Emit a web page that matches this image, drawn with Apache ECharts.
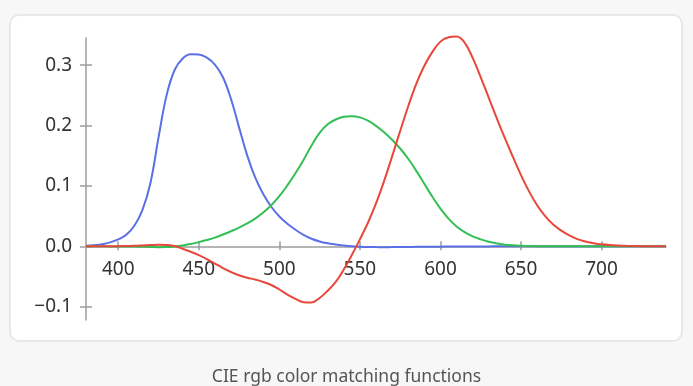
<!DOCTYPE html>
<html>
<head>
<meta charset="utf-8">
<script src="https://cdn.jsdelivr.net/npm/echarts@6/dist/echarts.min.js"></script>
<style>
  html, body { margin: 0; padding: 0; background: #f7f7f7; }
  #card { position: absolute; left: 9px; top: 14px; width: 674px; height: 328px; box-sizing: border-box;
          background: #fff; border: 2px solid #e8e8e8; border-radius: 10px; }
  #chart { position: absolute; left: 0; top: 0; width: 693px; height: 386px; }
</style>
</head>
<body>
<div id="card"></div>
<div id="chart"></div>
<script>
// Wavelengths (nm), 380..740 step 5
const wavelengths = [380,385,390,395,400,405,410,415,420,425,430,435,440,445,450,455,460,465,470,475,480,485,490,495,500,505,510,515,520,525,530,535,540,545,550,555,560,565,570,575,580,585,590,595,600,605,610,615,620,625,630,635,640,645,650,655,660,665,670,675,680,685,690,695,700,705,710,715,720,725,730,735,740];

const rBar = [0.0000,0.0001,0.0001,0.0002,0.0003,0.0005,0.0008,0.0014,0.0021,0.0027,0.0022,0.0004,-0.0040,-0.0090,-0.0145,-0.0210,-0.0285,-0.0360,-0.0425,-0.0480,-0.0520,-0.0550,-0.0590,-0.0640,-0.0715,-0.0800,-0.0870,-0.0925,-0.0930,-0.0855,-0.0735,-0.0590,-0.0385,-0.0145,0.0115,0.0390,0.0710,0.1080,0.1490,0.1910,0.2320,0.2690,0.2990,0.3220,0.3390,0.3462,0.3475,0.3375,0.3120,0.2800,0.2460,0.2120,0.1790,0.1480,0.1180,0.0910,0.0680,0.0500,0.0360,0.0260,0.0180,0.0120,0.0080,0.0050,0.0033,0.0021,0.0013,0.0008,0.0005,0.0003,0.0002,0.0001,0.0001];

const gBar = [0.0000,0.0000,0.0000,-0.0001,-0.0001,-0.0002,-0.0004,-0.0007,-0.0011,-0.0014,-0.0012,-0.0002,0.0015,0.0040,0.0070,0.0105,0.0145,0.0195,0.0250,0.0310,0.0380,0.0460,0.0560,0.0680,0.0830,0.1010,0.1210,0.1430,0.1670,0.1880,0.2020,0.2100,0.2145,0.2155,0.2135,0.2080,0.1995,0.1890,0.1765,0.1620,0.1450,0.1250,0.1035,0.0820,0.0625,0.0460,0.0330,0.0235,0.0165,0.0115,0.0075,0.0047,0.0028,0.0016,0.0009,0.0005,0.0003,0.0002,0.0001,0,0,0,0,0,0,0,0,0,0,0,0,0,0];

const bBar = [0.0010,0.0020,0.0035,0.0065,0.0115,0.0190,0.0340,0.0600,0.1050,0.1800,0.2500,0.2920,0.3110,0.3180,0.3175,0.3125,0.3010,0.2800,0.2440,0.1970,0.1510,0.1140,0.0865,0.0655,0.0495,0.0375,0.0275,0.0190,0.0125,0.0080,0.0050,0.0030,0.0015,0.0003,-0.0005,-0.0010,-0.0013,-0.0014,-0.0013,-0.0012,-0.0011,-0.0009,-0.0008,-0.0006,-0.0005,-0.0004,-0.0003,-0.0002,-0.0002,-0.0001,-0.0001,0,0,0,0,0,0,0,0,0,0,0,0,0,0,0,0,0,0,0,0,0,0];

const xTicks = [400, 450, 500, 550, 600, 650, 700];
const yTicks = [-0.1, 0.0, 0.1, 0.2, 0.3];
const caption = 'CIE rgb color matching functions';

const FONT = 'Noto Sans';
const AXIS_COLOR = '#9d9d9d';
const Y_MIN = -0.122, Y_MAX = 0.345;
const GRID = { left: 86, right: 27, top: 38, bottom: 66 };

function pairs(vals) { return wavelengths.map((w, i) => [w, vals[i]]); }
function yFmt(v) { const s = Math.abs(v).toFixed(1); return v < -1e-9 ? '\u2212' + s : s; }

// offset that lifts the bottom x axis up to y = 0
const plotH = 386 - GRID.top - GRID.bottom;
const zeroOffset = -plotH * (0 - Y_MIN) / (Y_MAX - Y_MIN);

const xBase = { type: 'value', min: 380, max: 740, position: 'bottom', offset: zeroOffset, splitLine: { show: false } };
const yBase = { type: 'value', min: Y_MIN, max: Y_MAX, position: 'left', splitLine: { show: false } };

function lineSeries(name, vals, color, z) {
  return { name: name, type: 'line', data: pairs(vals), showSymbol: false, smooth: 0.4,
           clip: false, lineStyle: { color: color, width: 2 }, z: z };
}

const chart = echarts.init(document.getElementById('chart'), null, { renderer: 'canvas' });
chart.setOption({
  animation: false,
  backgroundColor: 'transparent',
  title: {
    text: caption, left: 'center', top: 363,
    textStyle: { fontFamily: FONT, fontSize: 17.5, fontWeight: 'normal', color: '#555' }
  },
  grid: Object.assign({ containLabel: false }, GRID),
  xAxis: [
    Object.assign({}, xBase, {
      axisLine: { onZero: false, lineStyle: { color: AXIS_COLOR, width: 1.5 } },
      axisTick: { show: true, inside: true, length: 5, customValues: xTicks, lineStyle: { color: AXIS_COLOR, width: 1.5 } },
      axisLabel: { customValues: xTicks, margin: 14, fontFamily: FONT, fontSize: 19, color: '#333' }
    }),
    Object.assign({}, xBase, {
      axisLine: { show: false, onZero: false },
      axisTick: { show: true, inside: false, length: 4, customValues: xTicks, lineStyle: { color: AXIS_COLOR, width: 1.5 } },
      axisLabel: { show: false }
    })
  ],
  yAxis: [
    Object.assign({}, yBase, {
      axisLine: { show: true, onZero: false, lineStyle: { color: AXIS_COLOR, width: 1.5 } },
      axisTick: { show: true, inside: false, length: 6, customValues: yTicks, lineStyle: { color: AXIS_COLOR, width: 1.5 } },
      axisLabel: { customValues: yTicks, margin: 14, formatter: yFmt, fontFamily: FONT, fontSize: 19, color: '#333' }
    }),
    Object.assign({}, yBase, {
      axisLine: { show: false, onZero: false },
      axisTick: { show: true, inside: true, length: 6, customValues: yTicks, lineStyle: { color: AXIS_COLOR, width: 1.5 } },
      axisLabel: { show: false }
    })
  ],
  series: [
    lineSeries('b', bBar, '#5b70e6', 3),
    lineSeries('g', gBar, '#33bf55', 4),
    lineSeries('r', rBar, '#e8473b', 5)
  ]
});
</script>
</body>
</html>
